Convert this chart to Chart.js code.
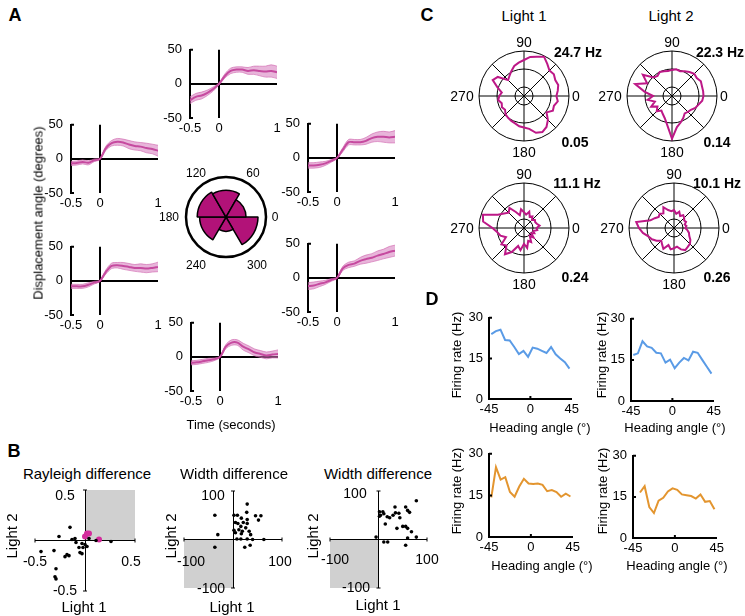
<!DOCTYPE html>
<html>
<head>
<meta charset="utf-8">
<script src="https://cdn.jsdelivr.net/npm/chart.js@4.4.1/dist/chart.umd.min.js"></script>
<style>
html, body { margin: 0; padding: 0; background: #fff; }
#fig { position: relative; width: 745px; height: 616px; overflow: hidden; font-family: "Liberation Sans", Arial, sans-serif; color: #000; }
#fig canvas { position: absolute; }
.t { position: absolute; white-space: nowrap; line-height: 1; transform: translate(-50%, -50%); }
.r { transform: translate(-50%, -50%) rotate(-90deg); }
.b { font-weight: bold; }
</style>
</head>
<body>
<div id="fig"></div>
<script>
// ---- A: displacement traces (mean and sem), time in seconds
const time = [-0.5, -0.4, -0.3, -0.2, -0.1, 0, 0.1, 0.2, 0.3, 0.4, 0.5, 0.6, 0.7, 0.8, 0.9, 1.0];
const dispTop = [-24, -19, -17, -13, -7.5, 0, 11.5, 19, 21, 21, 19, 20, 19, 18, 19, 17];
const semTop = [5, 5, 5, 4, 3, 1.5, 3, 4, 4, 4, 5, 6, 7, 8, 9, 9];
const dispLeftUp = [-6.6, -6, -4.4, -5.7, -2, 0, 15.5, 23, 25, 24, 21, 19, 18, 16, 14.6, 12];
const semLeftUp = [3, 3, 3, 3, 2, 1, 3, 4, 5, 5, 6, 6, 6, 7, 7, 8];
const dispRightUp = [-11, -11, -10, -8, -4.4, 0, 12, 23, 23, 23, 25, 29, 31, 31, 30, 31];
const semRightUp = [4, 4, 4, 3, 2, 1, 3, 4, 4, 4, 5, 6, 7, 8, 8, 9];
const dispLeftDown = [-8, -8, -8, -5.7, -2.6, 0, 13, 22, 23, 22, 20.5, 19, 19, 18, 19, 20.5];
const semLeftDown = [3, 3, 3, 3, 2, 1, 3, 4, 4, 5, 5, 5, 6, 6, 6, 7];
const dispRightDown = [-12, -11, -8.7, -6.5, -3, 0, 14, 19, 21, 25, 27.5, 29.5, 32.6, 35, 38, 40];
const semRightDown = [5, 5, 4, 3, 2, 1, 3, 4, 4, 5, 6, 6, 7, 7, 8, 8];
const dispBottom = [-8.7, -8, -6.5, -5, -3.5, 0, 15, 21, 21, 15, 11, 6.5, 4.3, 2.2, 3.5, 4.3];
const semBottom = [3, 3, 3, 3, 2, 1, 3, 4, 4, 5, 5, 5, 5, 5, 5, 6];

// rose of directions (fraction of outer ring), bins counter-clockwise from 0
const roseBins = ['0-60', '60-120', '120-180', '180-240', '240-300', '300-360'];
const roseCounts = [0.50, 0.67, 0.72, 0.66, 0.36, 0.80];

// ---- B: scatter data
const rayL1 = [-0.26, -0.15, -0.44, -0.31, -0.20, -0.18, -0.16, -0.29, -0.30, -0.29, -0.13, -0.10, -0.06, -0.03, -0.02, 0.00, 0.02, -0.05, -0.03, 0.11, 0.26, 0.04, -0.09];
const rayL2 = [0.04, 0.13, -0.11, -0.10, -0.16, -0.14, -0.15, -0.28, -0.36, -0.38, 0.01, 0.02, -0.07, -0.03, -0.07, -0.04, -0.06, -0.12, -0.13, 0.00, -0.01, 0.02, -0.02];
const rayHiL1 = [0.00, 0.02, 0.04, 0.14];
const rayHiL2 = [0.04, 0.07, 0.07, 0.01];
const widAL1 = [-37, -31, -37, 2, 9, 29, 28, 46, 57, 52, 63, 5, 10, 16, 21, 29, 26, 2, 5, 17, 33, 36, 8, 16, 29, 40, 24, 35, 19, 12, 29, 17];
const widAL2 = [50, 10, -16, 50, 50, 73, 56, 49, 49, 40, 0, 35, 33, 27, 35, 33, 24, 19, 14, 12, 17, 10, 1, 1, 1, 0, -16, -12, 17, 20, 41, 44];
const widBL1 = [2, 9, 4, 11, 18, 23, 34, 35, 44, 56, 60, 64, 78, 14, 38, 50, 56, 60, 68, 78, 60, 56, 11, 19, -5, 2, 42, 30];
const widBL2 = [57, 57, 50, 53, 47, 45, 67, 55, 45, 67, 60, 56, 80, 32, 23, 27, 27, 23, 16, 5, 3, -12, -5, -5, 5, 48, 54, 50];

// ---- C: polar tuning, normalised rate, 40 directions clockwise from top
const polarA1 = [0.80, 0.88, 0.92, 0.98, 0.88, 0.80, 0.82, 0.78, 0.80, 0.76, 0.72, 0.76, 0.70, 0.72, 0.62, 0.75, 0.85, 0.90, 0.86, 0.74,
                 0.70, 0.68, 0.64, 0.62, 0.60, 0.58, 0.52, 0.55, 0.52, 0.58, 0.55, 0.50, 0.62, 0.78, 0.72, 0.50, 0.55, 0.62, 0.70, 0.75];
const polarA2 = [0.58, 0.60, 0.58, 0.62, 0.66, 0.70, 0.68, 0.72, 0.70, 0.70, 0.70, 0.68, 0.62, 0.58, 0.52, 0.50, 0.48, 0.55, 0.62, 0.70,
                 0.95, 0.66, 0.52, 0.45, 0.40, 0.48, 0.40, 0.52, 0.40, 0.55, 0.42, 0.62, 0.86, 0.62, 0.80, 0.58, 0.55, 0.60, 0.58, 0.56];
const polarB1 = [0.35, 0.30, 0.38, 0.28, 0.32, 0.25, 0.30, 0.28, 0.30, 0.35, 0.28, 0.30, 0.22, 0.26, 0.20, 0.30, 0.22, 0.35, 0.30, 0.45,
                 0.35, 0.50, 0.42, 0.60, 0.72, 0.55, 0.62, 0.45, 0.55, 0.60, 0.70, 0.92, 0.96, 0.65, 0.55, 0.48, 0.55, 0.40, 0.30, 0.42];
const polarB2 = [0.40, 0.32, 0.38, 0.30, 0.35, 0.32, 0.28, 0.30, 0.25, 0.28, 0.25, 0.30, 0.35, 0.38, 0.45, 0.50, 0.52, 0.55, 0.50, 0.42,
                 0.45, 0.48, 0.40, 0.52, 0.45, 0.40, 0.48, 0.55, 0.60, 0.70, 0.78, 0.85, 0.55, 0.48, 0.42, 0.45, 0.40, 0.52, 0.42, 0.38];

// ---- D: firing rate vs heading
const heading = [-42.5, -37.5, -32.5, -27.5, -22.5, -17.5, -12.5, -7.5, -2.5, 2.5, 7.5, 12.5, 17.5, 22.5, 27.5, 32.5, 37.5, 42.5];
const rateTL = [24.0, 25.1, 25.6, 21.8, 21.6, 19.2, 16.6, 17.8, 15.6, 19.0, 18.6, 17.8, 17.0, 19.2, 16.5, 15.0, 13.6, 11.2];
const rateTR = [16.8, 17.4, 21.8, 19.9, 19.4, 17.6, 17.4, 14.0, 15.1, 12.0, 14.0, 15.7, 14.8, 18.0, 17.6, 15.0, 12.5, 10.0];
const rateBL = [14.3, 25.2, 20.7, 21.6, 16.2, 14.5, 18.2, 21.0, 19.3, 19.1, 19.3, 18.8, 16.5, 16.9, 16.2, 14.5, 15.6, 14.6];
const rateBR = [null, 16.6, 18.9, 11.3, 9.1, 13.6, 14.7, 17.0, 18.1, 17.6, 15.9, 15.6, 15.3, 14.4, 15.9, 13.2, 13.5, 10.5];

const magenta = '#b3137d';
const bandFill = 'rgba(214,120,188,0.55)';
const bandEdge = 'rgba(205,95,170,0.6)';
const blue = '#5a9be6';
const orange = '#e3952f';

Chart.defaults.font.family = '"Liberation Sans", Arial, sans-serif';
Chart.defaults.font.size = 13;
Chart.defaults.color = '#000';
Chart.defaults.animation = false;
Chart.defaults.responsive = false;
Chart.defaults.plugins.legend.display = false;
Chart.defaults.plugins.tooltip.enabled = false;

const fig = document.getElementById('fig');

function canvasAt(x, y, w, h) {
  const c = document.createElement('canvas');
  c.width = w; c.height = h;
  c.style.left = x + 'px'; c.style.top = y + 'px';
  c.style.width = w + 'px'; c.style.height = h + 'px';
  fig.appendChild(c);
  return c;
}

function txt(s, x, y, size, cls) {
  const d = document.createElement('div');
  d.className = 't ' + (cls || '');
  d.textContent = s;
  d.style.left = x + 'px';
  d.style.top = y + 'px';
  d.style.fontSize = size + 'px';
  fig.appendChild(d);
}

const ticksAt = vals => s => { s.ticks = vals.map(v => ({ value: v })); };
const zeroOnly = c => (c.tick && c.tick.value === 0) ? '#000' : 'rgba(0,0,0,0)';
const plain = v => String(v);

// short tick marks drawn on the inside of the axes
const nubs = {
  id: 'nubs',
  afterDatasetsDraw(chart, args, o) {
    const { ctx, scales: { x, y } } = chart;
    ctx.save();
    ctx.strokeStyle = '#000';
    ctx.lineWidth = o.width || 1;
    ctx.beginPath();
    (o.y || []).forEach(v => {
      const px = x.getPixelForValue(o.yAt), py = y.getPixelForValue(v);
      ctx.moveTo(px - (o.both ? o.len : 0), py);
      ctx.lineTo(px + o.len, py);
    });
    (o.x || []).forEach(v => {
      const px = x.getPixelForValue(v), py = y.getPixelForValue(o.xAt);
      ctx.moveTo(px, py + (o.both ? o.len : 0));
      ctx.lineTo(px, py - o.len);
    });
    ctx.stroke();
    ctx.restore();
  }
};

// grey quadrant behind the scatter
const quad = {
  id: 'quad',
  beforeDraw(chart, args, o) {
    const { ctx, scales: { x, y } } = chart;
    const l = x.getPixelForValue(o.x0), r = x.getPixelForValue(o.x1);
    const t = y.getPixelForValue(o.y1), b = y.getPixelForValue(o.y0);
    ctx.save();
    ctx.fillStyle = '#d0d0d0';
    ctx.fillRect(l, t, r - l, b - t);
    ctx.restore();
  }
};

// ---------- A ----------
function dispChart(ax, top, mean, sem) {
  const cv = canvasAt(ax - 40, top - 8, 135, 106);
  const pts = f => time.map((t, i) => ({ x: t, y: f(i) }));
  new Chart(cv, {
    type: 'line',
    data: {
      datasets: [
        { data: pts(i => mean[i] + sem[i]), fill: '+1', backgroundColor: bandFill, borderColor: bandEdge, borderWidth: 1 },
        { data: pts(i => mean[i] - sem[i]), fill: false, borderColor: bandEdge, borderWidth: 1 },
        { data: pts(i => mean[i]), fill: false, borderColor: magenta, borderWidth: 2 }
      ]
    },
    options: {
      layout: { padding: { top: 8, right: 8 } },
      elements: { point: { radius: 0 }, line: { tension: 0.3 } },
      plugins: { nubs: { y: [-50, 50], yAt: -0.5, len: 3, width: 2 } },
      scales: {
        x: {
          type: 'linear', min: -0.5, max: 1, z: 1,
          afterBuildTicks: ticksAt([-0.5, 0, 1]), afterFit: s => { s.height = 22; },
          border: { display: false },
          grid: { drawTicks: false, color: zeroOnly, lineWidth: 2 },
          ticks: { padding: 3, maxRotation: 0, autoSkip: false, callback: plain }
        },
        y: {
          min: -50, max: 50, z: 1,
          afterBuildTicks: ticksAt([-50, 0, 50]), afterFit: s => { s.width = 40; },
          border: { color: '#000', width: 2 },
          grid: { drawTicks: false, color: zeroOnly, lineWidth: 2 },
          ticks: { padding: 8, callback: plain }
        }
      }
    },
    plugins: [nubs]
  });
}

dispChart(190, 42, dispTop, semTop);
dispChart(71, 117, dispLeftUp, semLeftUp);
dispChart(308, 116, dispRightUp, semRightUp);
dispChart(71, 239, dispLeftDown, semLeftDown);
dispChart(308, 236, dispRightDown, semRightDown);
dispChart(191, 315, dispBottom, semBottom);

// rose, drawn clockwise from east
new Chart(canvasAt(181, 172, 90, 90), {
  type: 'polarArea',
  data: {
    labels: roseBins.slice().reverse(),
    datasets: [{ data: roseCounts.slice().reverse(), backgroundColor: '#b21278', borderColor: '#000', borderWidth: 1.5 }]
  },
  options: {
    layout: { padding: 5 },
    startAngle: 90,
    scales: {
      r: {
        min: 0, max: 1, startAngle: 90,
        ticks: { display: false },
        afterBuildTicks: ticksAt([0, 1]),
        grid: { color: '#000', lineWidth: 2.5, circular: true },
        angleLines: { display: false },
        pointLabels: { display: false }
      }
    }
  }
});

// ---------- B ----------
function scatterChart(l, t, w, h, lim, sets, shade) {
  const cv = canvasAt(l - 5, t - 5, w + 10, h + 10);
  const axis = {
    min: -lim, max: lim,
    afterBuildTicks: ticksAt([-lim, 0, lim]),
    ticks: { display: false },
    border: { display: false },
    grid: { drawTicks: false, color: zeroOnly, lineWidth: 1 }
  };
  new Chart(cv, {
    type: 'scatter',
    data: { datasets: sets },
    options: {
      layout: { padding: 5 },
      plugins: { quad: shade, nubs: { x: [-lim, lim], xAt: 0, y: [-lim, lim], yAt: 0, len: 2, both: true, width: 1 } },
      scales: {
        x: Object.assign({ type: 'linear', afterFit: s => { s.height = 0; } }, axis),
        y: Object.assign({ type: 'linear', afterFit: s => { s.width = 0; } }, axis)
      }
    },
    plugins: [quad, nubs]
  });
}

const dots = (xs, ys, color, r) => ({
  data: xs.map((v, i) => ({ x: v, y: ys[i] })),
  backgroundColor: color, borderWidth: 0, pointRadius: r
});

scatterChart(35, 490, 100, 101, 0.5, [dots(rayL1, rayL2, '#000', 1.8), dots(rayHiL1, rayHiL2, '#d42c9c', 3)], { x0: 0, x1: 0.5, y0: 0, y1: 0.5 });
scatterChart(184, 491, 98, 97, 100, [dots(widAL1, widAL2, '#000', 1.8)], { x0: -100, x1: 0, y0: -100, y1: 0 });
scatterChart(330, 491, 97, 97, 100, [dots(widBL1, widBL2, '#000', 1.8)], { x0: -100, x1: 0, y0: -100, y1: 0 });

// ---------- C ----------
function polarChart(cx, cy, vals) {
  const cv = canvasAt(cx - 50, cy - 50, 100, 100);
  new Chart(cv, {
    type: 'radar',
    data: {
      labels: vals.map((v, i) => String(i * 9)),
      datasets: [{ data: vals, borderColor: '#bd1887', borderWidth: 2, pointRadius: 0, fill: false }]
    },
    options: {
      layout: { padding: 5 },
      scales: {
        r: {
          min: 0, max: 1, startAngle: 0,
          ticks: { display: false },
          afterBuildTicks: ticksAt([0, 0.2, 0.6, 1]),
          grid: { circular: true, color: '#000', lineWidth: 1 },
          angleLines: { color: c => c.index % 5 === 0 ? '#000' : 'rgba(0,0,0,0)', lineWidth: 1 },
          pointLabels: { display: false }
        }
      }
    }
  });
}

polarChart(524, 96, polarA1);
polarChart(672, 96, polarA2);
polarChart(524, 228, polarB1);
polarChart(674, 228, polarB2);

// ---------- D ----------
function rateChart(l, t, w, h, vals, color) {
  const cv = canvasAt(l - 30, t - 8, 30 + w + 10, 8 + h + 22);
  new Chart(cv, {
    type: 'line',
    data: { datasets: [{ data: heading.map((x, i) => ({ x: x, y: vals[i] })), borderColor: color, borderWidth: 2, pointRadius: 0, fill: false }] },
    options: {
      layout: { padding: { top: 8, right: 10 } },
      plugins: { nubs: { y: [15, 30], yAt: -45, x: [0], xAt: 0, len: 3, width: 2 } },
      scales: {
        x: {
          type: 'linear', min: -45, max: 45,
          afterBuildTicks: ticksAt([-45, 0, 45]), afterFit: s => { s.height = 22; },
          border: { color: '#000', width: 2 },
          grid: { display: false, drawTicks: false },
          ticks: { padding: 3, maxRotation: 0, autoSkip: false, callback: plain }
        },
        y: {
          min: 0, max: 30,
          afterBuildTicks: ticksAt([0, 15, 30]), afterFit: s => { s.width = 30; },
          border: { color: '#000', width: 2 },
          grid: { display: false, drawTicks: false },
          ticks: { padding: 6, callback: plain }
        }
      }
    },
    plugins: [nubs]
  });
}

rateChart(489, 312, 83, 87, rateTL, blue);
rateChart(631, 313, 83, 88, rateTR, blue);
rateChart(489, 448, 84, 89, rateBL, orange);
rateChart(633, 450, 84, 88, rateBR, orange);

// ---------- text ----------
txt('A', 15, 15, 18, 'b');
txt('B', 14, 451, 18, 'b');
txt('C', 427, 15, 18, 'b');
txt('D', 432, 299, 18, 'b');

txt('Displacement angle (degrees)', 38, 213, 13, 'r');
txt('Time (seconds)', 231, 424, 13);
txt('120', 196, 173, 12); txt('60', 253, 173, 12);
txt('180', 169, 217, 12); txt('0', 275, 217, 12);
txt('240', 196, 265, 12); txt('300', 257, 265, 12);

txt('Rayleigh difference', 87, 473, 15);
txt('Width difference', 234, 473, 15);
txt('Width difference', 378, 473, 15);
txt('0.5', 65, 495, 14); txt('-0.5', 35, 561, 14); txt('0.5', 131, 561, 14); txt('-0.5', 65, 590, 14);
txt('100', 213, 495, 14); txt('-100', 191, 561, 14); txt('100', 280, 561, 14); txt('-100', 211, 588, 14);
txt('100', 355, 493, 14); txt('-100', 335, 559, 14); txt('100', 427, 559, 14); txt('-100', 356, 587, 14);
txt('Light 2', 11, 536, 15, 'r'); txt('Light 2', 170, 536, 15, 'r'); txt('Light 2', 312, 536, 15, 'r');
txt('Light 1', 84, 606, 15); txt('Light 1', 232, 606, 15); txt('Light 1', 378, 604, 15);

txt('Light 1', 524, 15, 15); txt('Light 2', 671, 15, 15);
[[524, 96], [672, 96], [524, 228], [674, 228]].forEach(([cx, cy]) => {
  txt('90', cx, cy - 54, 14);
  txt('0', cx + 52, cy, 14);
  txt('270', cx - 62, cy, 14);
  txt('180', cx, cy + 56, 14);
});
txt('24.7 Hz', 578, 52, 14, 'b'); txt('0.05', 575, 142, 14, 'b');
txt('22.3 Hz', 720, 52, 14, 'b'); txt('0.14', 717, 142, 14, 'b');
txt('11.1 Hz', 577, 183, 14, 'b'); txt('0.24', 575, 277, 14, 'b');
txt('10.1 Hz', 717, 183, 14, 'b'); txt('0.26', 717, 277, 14, 'b');

txt('Firing rate (Hz)', 456, 355, 13, 'r'); txt('Firing rate (Hz)', 601, 355, 13, 'r');
txt('Firing rate (Hz)', 456, 491, 13, 'r'); txt('Firing rate (Hz)', 602, 491, 13, 'r');
txt('Heading angle (°)', 540, 427, 13); txt('Heading angle (°)', 675, 427, 13);
txt('Heading angle (°)', 542, 565, 13); txt('Heading angle (°)', 677, 565, 13);
</script>
</body>
</html>
